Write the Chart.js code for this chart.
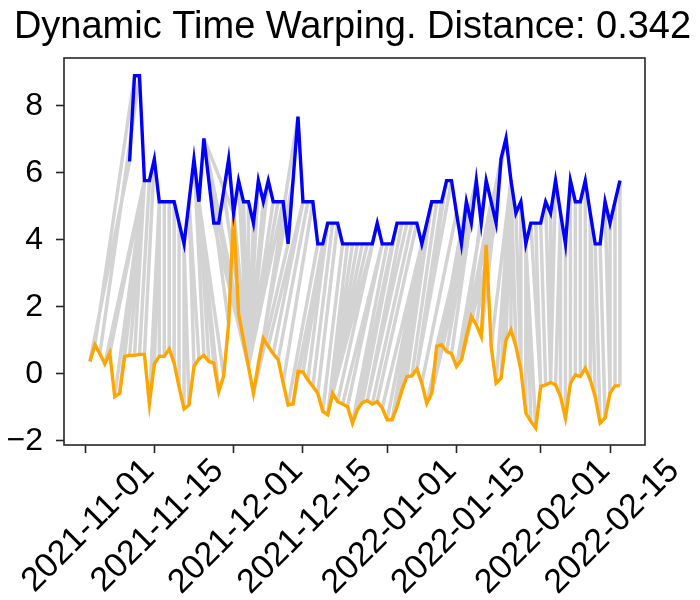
<!DOCTYPE html>
<html>
<head>
<meta charset="utf-8">
<script src="https://cdn.jsdelivr.net/npm/chart.js@4.4.0/dist/chart.umd.min.js"></script>
<style>
  html, body { margin: 0; padding: 0; background: #fff; }
</style>
</head>
<body>
<canvas id="chart" width="700" height="600"></canvas>
<script>
const TITLE = 'Dynamic Time Warping. Distance: 0.342';

// x values are days counted from 2021-11-01
const orangeStartDay = 1;   // 2021-11-02
const blueStartDay = 9;     // 2021-11-10

const orangeValues = [
    0.37, 0.87, 0.60, 0.30, 0.62, -0.68, -0.58, 0.52, 0.55, 0.55,
    0.58, 0.58, -0.90, 0.30, 0.52, 0.52, 0.74, 0.32, -0.40, -1.05,
    -0.93, 0.22, 0.45, 0.55, 0.37, 0.32, -0.53, -0.06, 1.50, 4.80,
    1.81, 1.01, 0.22, -0.58, 0.30, 1.06, 0.82, 0.60, 0.42, -0.27,
    -0.93, -0.90, 0.07, 0.05, -0.18, -0.38, -0.58, -1.12, -1.22, -0.58,
    -0.83, -0.90, -0.98, -1.47, -1.07, -0.86, -0.80, -0.90, -0.83, -1.02,
    -1.37, -1.37, -0.98, -0.48, -0.08, -0.06, 0.14, -0.28, -0.88, -0.58,
    0.82, 0.87, 0.67, 0.60, 0.22, 0.42, 1.11, 1.71, 1.46, 1.11,
    3.85, 0.82, -0.28, -0.13, 1.01, 1.31, 0.82, 0.12, -1.17, -1.42,
    -1.62, -0.38, -0.33, -0.26, -0.33, -0.68, -1.32, -0.28, -0.03, -0.08,
    0.17, -0.18, -0.68, -1.47, -1.32, -0.58, -0.36, -0.36
];

const blueValues = [
    6.34, 8.90, 8.90, 5.77, 5.77, 6.41, 5.14, 5.14, 5.14, 5.14,
    4.50, 3.88, 5.14, 6.41, 5.14, 7.03, 5.77, 4.50, 4.50, 5.45,
    6.41, 4.80, 5.77, 5.14, 5.14, 4.50, 5.77, 5.14, 5.77, 5.14,
    5.14, 5.14, 3.88, 5.77, 7.68, 5.14, 5.14, 5.14, 3.88, 3.88,
    4.50, 4.50, 4.50, 3.88, 3.88, 3.88, 3.88, 3.88, 3.88, 3.88,
    4.50, 3.88, 3.88, 3.88, 4.50, 4.50, 4.50, 4.50, 4.50, 3.88,
    4.50, 5.14, 5.14, 5.14, 5.77, 5.77, 4.80, 3.88, 5.14, 4.50,
    5.77, 4.50, 5.77, 5.14, 4.50, 6.43, 7.03, 5.77, 4.80, 5.14,
    3.88, 4.50, 4.50, 4.50, 5.14, 4.80, 5.77, 4.80, 3.88, 5.77,
    5.14, 5.14, 5.77, 4.80, 3.88, 3.88, 5.14, 4.50, 5.14, 5.77
];

const xTickDays = [0, 14, 30, 44, 61, 75, 92, 106];
const xTickLabels = ['2021-11-01', '2021-11-15', '2021-12-01', '2021-12-15',
                     '2022-01-01', '2022-01-15', '2022-02-01', '2022-02-15'];
const yTickValues = [-2, 0, 2, 4, 6, 8];
const maxDayShift = 8; // warping window, in days

function zNorm(arr) {
    const m = arr.reduce((s, v) => s + v, 0) / arr.length;
    const sd = Math.sqrt(arr.reduce((s, v) => s + (v - m) * (v - m), 0) / arr.length);
    return arr.map(v => (v - m) / sd);
}

// DTW on z-normalised series, limited to pairs at most maxDayShift days apart
function dtwPath(a, b, offset) {
    const n = a.length, m = b.length;
    const D = [];
    for (let i = 0; i <= n; i++) D.push(new Array(m + 1).fill(Infinity));
    D[0][0] = 0;
    for (let i = 1; i <= n; i++) {
        for (let j = 1; j <= m; j++) {
            if (Math.abs((i - 1) - (j - 1 + offset)) > maxDayShift) continue;
            const d = a[i - 1] - b[j - 1];
            D[i][j] = d * d + Math.min(D[i - 1][j], D[i][j - 1], D[i - 1][j - 1]);
        }
    }
    const path = [];
    let i = n, j = m;
    while (i > 0 && j > 0) {
        path.push([i - 1, j - 1]);
        const diag = D[i - 1][j - 1], up = D[i - 1][j], left = D[i][j - 1];
        if (diag <= up && diag <= left) { i--; j--; }
        else if (up < left) i--;
        else j--;
    }
    return path.reverse();
}

const orangePoints = orangeValues.map((v, i) => ({ x: orangeStartDay + i, y: v }));
const bluePoints = blueValues.map((v, i) => ({ x: blueStartDay + i, y: v }));

// one segment per matched pair, separated by gaps
const warpData = [];
for (const [i, j] of dtwPath(zNorm(orangeValues), zNorm(blueValues), blueStartDay - orangeStartDay)) {
    warpData.push(orangePoints[i], bluePoints[j], { x: bluePoints[j].x, y: null });
}

const fontFamily = '"Liberation Sans", Arial, sans-serif';

// matplotlib style box round the plot
const framePlugin = {
    id: 'frame',
    afterDraw(chart) {
        const { ctx, chartArea: a } = chart;
        ctx.save();
        ctx.strokeStyle = '#262626';
        ctx.lineWidth = 1.6;
        ctx.strokeRect(a.left, a.top, a.right - a.left, a.bottom - a.top);
        ctx.restore();
    }
};

new Chart(document.getElementById('chart'), {
    type: 'line',
    data: {
        datasets: [
            { data: bluePoints, borderColor: '#0000ff', borderWidth: 3.4, pointRadius: 0, tension: 0 },
            { data: orangePoints, borderColor: '#ffa500', borderWidth: 3.4, pointRadius: 0, tension: 0 },
            { data: warpData, borderColor: '#d3d3d3', borderWidth: 3.5, pointRadius: 0, tension: 0, spanGaps: false }
        ]
    },
    options: {
        responsive: false,
        animation: false,
        layout: { padding: { left: 5, right: 0, top: 0, bottom: 0 } },
        plugins: {
            legend: { display: false },
            tooltip: { enabled: false },
            title: {
                display: true,
                text: TITLE,
                color: '#000',
                font: { family: fontFamily, size: 38, weight: 'normal' },
                padding: { top: 5, bottom: 7.4 }
            }
        },
        scales: {
            x: {
                type: 'linear',
                min: -4.24,
                max: 113.06,
                afterBuildTicks: s => { s.ticks = xTickDays.map(v => ({ value: v })); },
                afterFit: s => { s.height = 155; s.paddingLeft = 0; s.paddingRight = 0; },
                ticks: {
                    font: { family: fontFamily, size: 34 },
                    color: '#000',
                    minRotation: 45,
                    maxRotation: 45,
                    autoSkip: false,
                    labelOffset: 64,
                    padding: -2,
                    callback: v => xTickLabels[xTickDays.indexOf(v)]
                },
                grid: { drawOnChartArea: false, tickLength: 8, tickColor: '#262626', tickWidth: 1.6 },
                border: { display: false }
            },
            y: {
                type: 'linear',
                min: -2.125,
                max: 9.43,
                afterBuildTicks: s => { s.ticks = yTickValues.map(v => ({ value: v })); },
                afterFit: s => { s.width = 59; s.paddingTop = 0; s.paddingBottom = 0; },
                ticks: {
                    font: { family: fontFamily, size: 32 },
                    color: '#000',
                    padding: 13,
                    callback: v => (v < 0 ? '\u2212' + Math.abs(v) : String(v))
                },
                grid: { drawOnChartArea: false, tickLength: 8, tickColor: '#262626', tickWidth: 1.6 },
                border: { display: false }
            },
            // empty right-hand band so the plot ends where the reference's does
            spacer: {
                type: 'linear',
                position: 'right',
                grid: { display: false },
                ticks: { display: false },
                border: { display: false },
                afterFit: s => { s.width = 55; s.paddingTop = 0; s.paddingBottom = 0; }
            }
        }
    },
    plugins: [framePlugin]
});
</script>
</body>
</html>
